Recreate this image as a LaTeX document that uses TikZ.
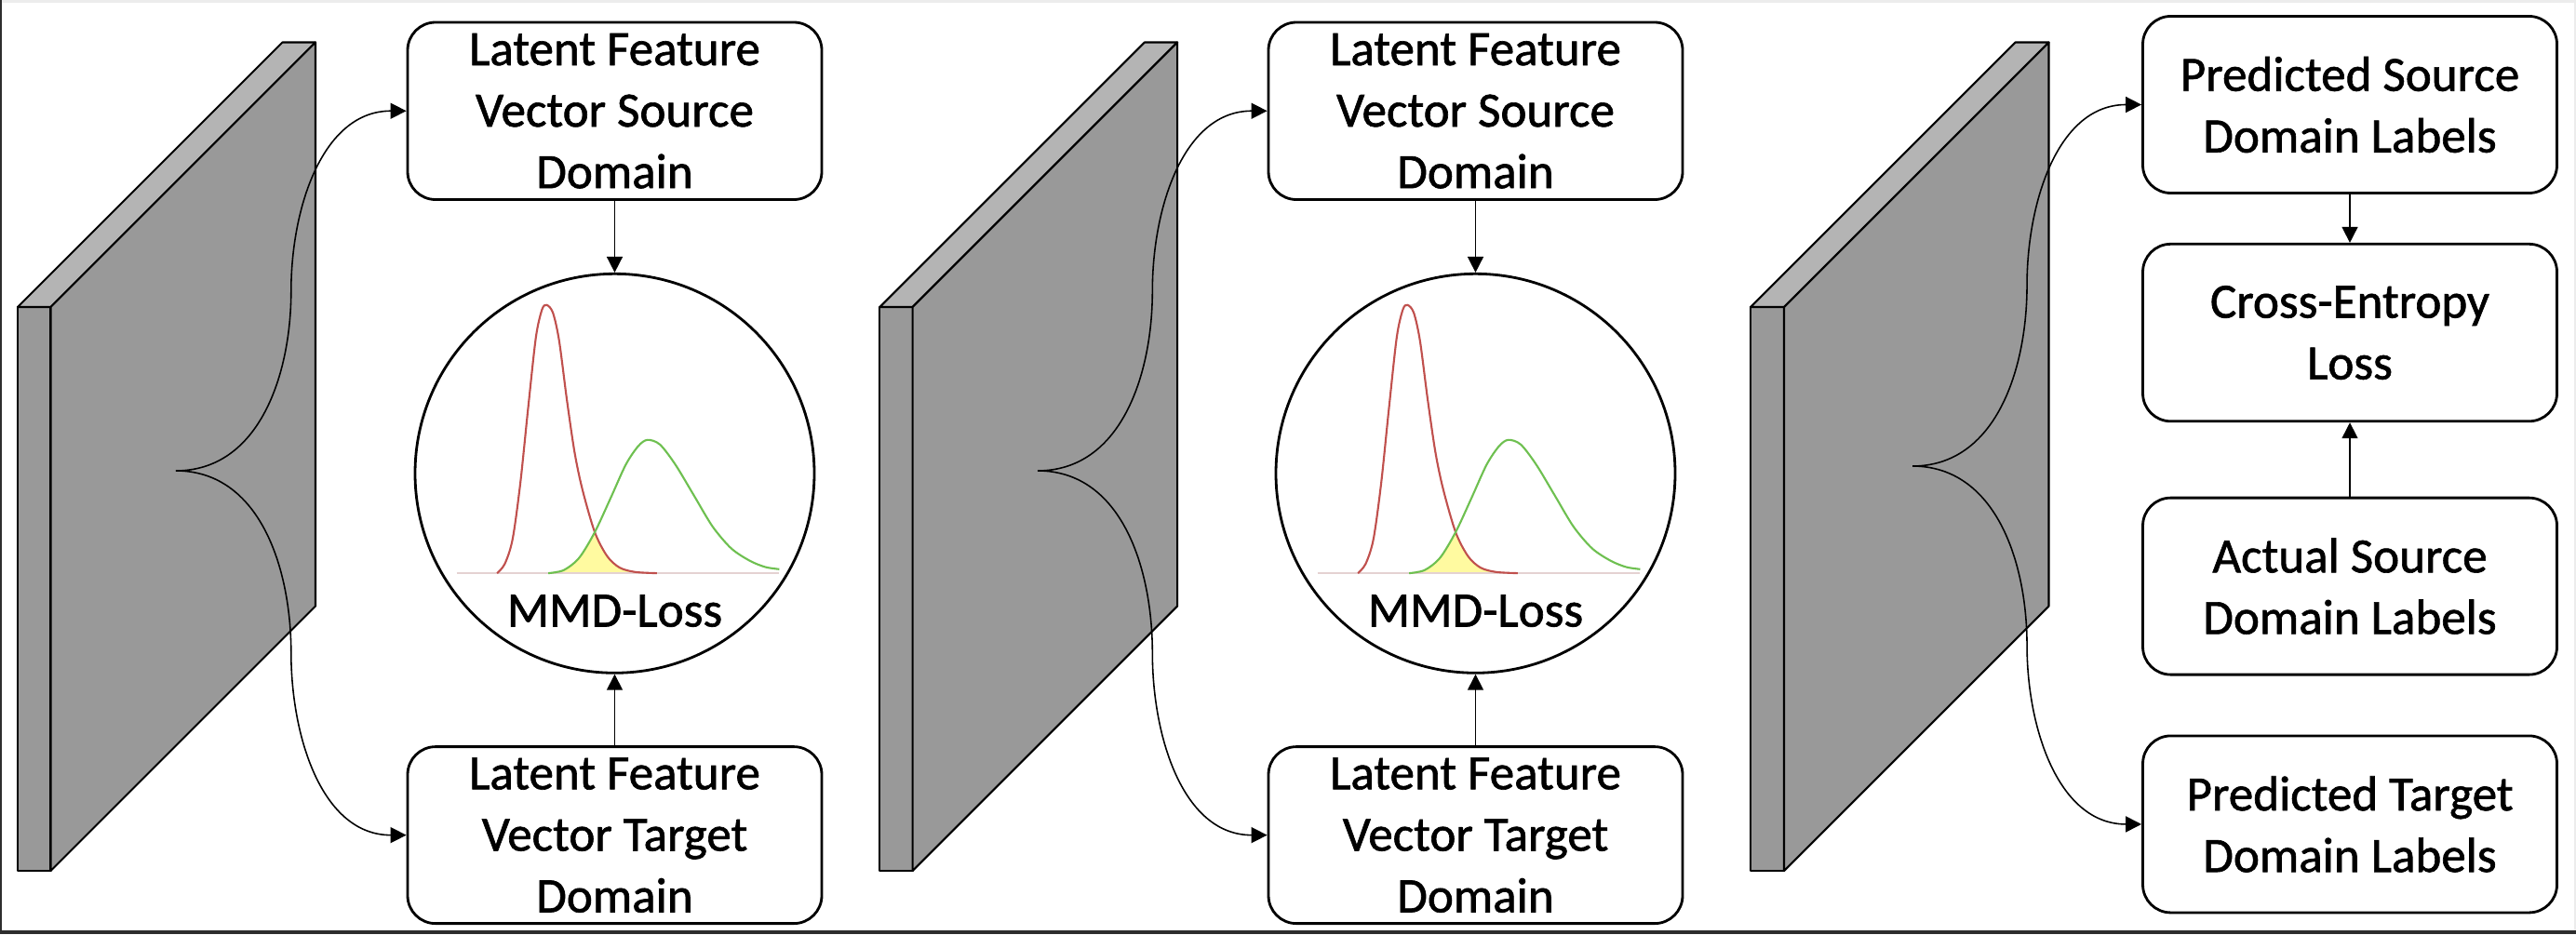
\documentclass[tikz,border=0pt]{standalone}
\usepackage{fontspec}
\setmainfont{Carlito}[FakeBold=1.2]
\usepackage{tikz}
\usetikzlibrary{arrows.meta, positioning, calc}

\definecolor{slabgray}{RGB}{153,153,153}
\definecolor{slabtopgray}{RGB}{180,180,180}
\definecolor{pdfred}{RGB}{192,80,77}
\definecolor{pdfgreen}{RGB}{110,192,80}
\definecolor{overlapyellow}{RGB}{255,250,160}
\definecolor{axisgray}{RGB}{228,210,210}
\definecolor{framedark}{RGB}{45,45,45}
\definecolor{framelight}{RGB}{236,236,236}

\begin{document}
\begin{tikzpicture}[
    box/.style={draw, line width=0.8pt, rounded corners=0.3cm, fill=white, minimum width=4.45cm, minimum height=1.9cm, inner sep=0pt, align=center, font=\fontsize{15.1}{18.8}\selectfont},
    ring/.style={draw, circle, line width=0.8pt, fill=white, minimum size=4.29cm, inner sep=0pt},
    losstext/.style={inner sep=0pt, font=\fontsize{15.1}{18.8}\selectfont},
    slab/.style={draw, line width=0.6pt, fill=slabgray, line join=round},
    slabtop/.style={draw, line width=0.6pt, fill=slabtopgray, line join=round},
    conn/.style={line width=0.45pt, -{Triangle[length=0.17cm, width=0.17cm]}},
    redpdf/.style={draw=pdfred, line width=0.6pt},
    greenpdf/.style={draw=pdfgreen, line width=0.6pt},
    axisline/.style={draw=axisgray, line width=0.5pt}
]
    % frame of the screenshot
    \fill[white] (0,0) rectangle (27.68,10.04);
    \fill[framelight] (0,10.01) rectangle (27.68,10.04);
    \fill[framelight] (27.66,0) rectangle (27.68,10.04);
    \fill[framedark] (0,0) rectangle (0.02,10.04);
    \fill[framedark] (0,0) rectangle (27.68,0.045);

    % slabs
    \filldraw[slab] (0.19,0.68) rectangle (0.545,6.74);
    \filldraw[slabtop] (0.19,6.74) -- (3.035,9.585) -- (3.39,9.585) -- (0.545,6.74) -- cycle;
    \filldraw[slab] (0.545,0.68) -- (0.545,6.74) -- (3.39,9.585) -- (3.39,3.525) -- cycle;

    \filldraw[slab] (9.454,0.68) rectangle (9.806,6.74);
    \filldraw[slabtop] (9.454,6.74) -- (12.299,9.585) -- (12.651,9.585) -- (9.806,6.74) -- cycle;
    \filldraw[slab] (9.806,0.68) -- (9.806,6.74) -- (12.651,9.585) -- (12.651,3.525) -- cycle;

    \filldraw[slab] (18.81,0.68) rectangle (19.17,6.74);
    \filldraw[slabtop] (18.81,6.74) -- (21.655,9.585) -- (22.015,9.585) -- (19.17,6.74) -- cycle;
    \filldraw[slab] (19.17,0.68) -- (19.17,6.74) -- (22.015,9.585) -- (22.015,3.525) -- cycle;

    \coordinate (c1) at (1.89,4.98);
    \coordinate (c2) at (11.15,4.98);
    \coordinate (c3) at (20.55,5.03);

    % first block
    \node[box, minimum height=1.905cm] (s1) at (6.605,8.8475) {Latent Feature\\Vector Source\\Domain};
    \node[ring] (m1) [below=0.77cm of s1] {};
    \node[box] (t1) [below=0.765cm of m1] {Latent Feature\\Vector Target\\Domain};
    \node[losstext, anchor=base] (l1) at ([yshift=-1.647cm]m1.center) {MMD-Loss};

    % second block
    \node[box, minimum height=1.905cm] (s2) at (15.855,8.8475) {Latent Feature\\Vector Source\\Domain};
    \node[ring] (m2) [below=0.77cm of s2] {};
    \node[box] (t2) [below=0.765cm of m2] {Latent Feature\\Vector Target\\Domain};
    \node[losstext, anchor=base] (l2) at ([yshift=-1.647cm]m2.center) {MMD-Loss};

    % third block
    \node[box] (pa) at (25.25,8.915) {Predicted Source\\Domain Labels};
    \node[box, minimum height=1.905cm] (pb) [below=0.52cm of pa] {Cross-Entropy\\Loss};
    \node[box] (pc) [below=0.795cm of pb] {Actual Source\\Domain Labels};
    \node[box] (pd) [below=0.63cm of pc] {Predicted Target\\Domain Labels};

    % connectors
    \draw[conn] (c1) to[out=0, in=-90] ($(c1)!0.5!(s1.west)$) to[out=90, in=180] (s1.west);
    \draw[conn] (c1) to[out=0, in=90] ($(c1)!0.5!(t1.west)$) to[out=-90, in=180] (t1.west);
    \draw[conn] (s1) -- (m1);
    \draw[conn] (t1) -- (m1);

    \draw[conn] (c2) to[out=0, in=-90] ($(c2)!0.5!(s2.west)$) to[out=90, in=180] (s2.west);
    \draw[conn] (c2) to[out=0, in=90] ($(c2)!0.5!(t2.west)$) to[out=-90, in=180] (t2.west);
    \draw[conn] (s2) -- (m2);
    \draw[conn] (t2) -- (m2);

    \draw[conn] (c3) to[out=0, in=-90] ($(c3)!0.5!(pa.west)$) to[out=90, in=180] (pa.west);
    \draw[conn] (c3) to[out=0, in=90] ($(c3)!0.5!(pd.west)$) to[out=-90, in=180] (pd.west);
    \draw[conn] (pa) -- (pb);
    \draw[conn] (pc) -- (pb);

    % distributions in the first ring
    \begin{scope}[shift={(m1.center)}]
        \fill[overlapyellow] plot[smooth] coordinates {(-0.714,-1.073) (-0.547,-1.04) (-0.381,-0.907) (-0.214,-0.632)}
            -- plot[smooth] coordinates {(-0.214,-0.632) (-0.081,-0.89) (0.053,-1.013) (0.219,-1.06) (0.453,-1.073)} -- cycle;
        \draw[axisline] (-1.697,-1.073) -- (1.769,-1.073);
        \draw[redpdf] plot[smooth] coordinates {(-1.264,-1.073) (-1.181,-0.973) (-1.097,-0.707) (-1.014,-0.107) (-0.931,0.693) (-0.847,1.46) (-0.781,1.76) (-0.731,1.81) (-0.664,1.727) (-0.597,1.427) (-0.514,0.793) (-0.431,0.227) (-0.347,-0.173) (-0.214,-0.632) (-0.081,-0.89) (0.053,-1.013) (0.219,-1.06) (0.453,-1.073)};
        \draw[greenpdf] plot[smooth] coordinates {(-0.714,-1.073) (-0.547,-1.04) (-0.381,-0.907) (-0.214,-0.632) (-0.047,-0.273) (0.119,0.093) (0.253,0.293) (0.353,0.36) (0.486,0.31) (0.653,0.093) (0.853,-0.24) (1.053,-0.573) (1.253,-0.807) (1.453,-0.94) (1.619,-1.007) (1.769,-1.03)};
    \end{scope}

    % distributions in the second ring
    \begin{scope}[shift={(m2.center)}]
        \fill[overlapyellow] plot[smooth] coordinates {(-0.714,-1.073) (-0.547,-1.04) (-0.381,-0.907) (-0.214,-0.632)}
            -- plot[smooth] coordinates {(-0.214,-0.632) (-0.081,-0.89) (0.053,-1.013) (0.219,-1.06) (0.453,-1.073)} -- cycle;
        \draw[axisline] (-1.697,-1.073) -- (1.769,-1.073);
        \draw[redpdf] plot[smooth] coordinates {(-1.264,-1.073) (-1.181,-0.973) (-1.097,-0.707) (-1.014,-0.107) (-0.931,0.693) (-0.847,1.46) (-0.781,1.76) (-0.731,1.81) (-0.664,1.727) (-0.597,1.427) (-0.514,0.793) (-0.431,0.227) (-0.347,-0.173) (-0.214,-0.632) (-0.081,-0.89) (0.053,-1.013) (0.219,-1.06) (0.453,-1.073)};
        \draw[greenpdf] plot[smooth] coordinates {(-0.714,-1.073) (-0.547,-1.04) (-0.381,-0.907) (-0.214,-0.632) (-0.047,-0.273) (0.119,0.093) (0.253,0.293) (0.353,0.36) (0.486,0.31) (0.653,0.093) (0.853,-0.24) (1.053,-0.573) (1.253,-0.807) (1.453,-0.94) (1.619,-1.007) (1.769,-1.03)};
    \end{scope}
\end{tikzpicture}
\end{document}
